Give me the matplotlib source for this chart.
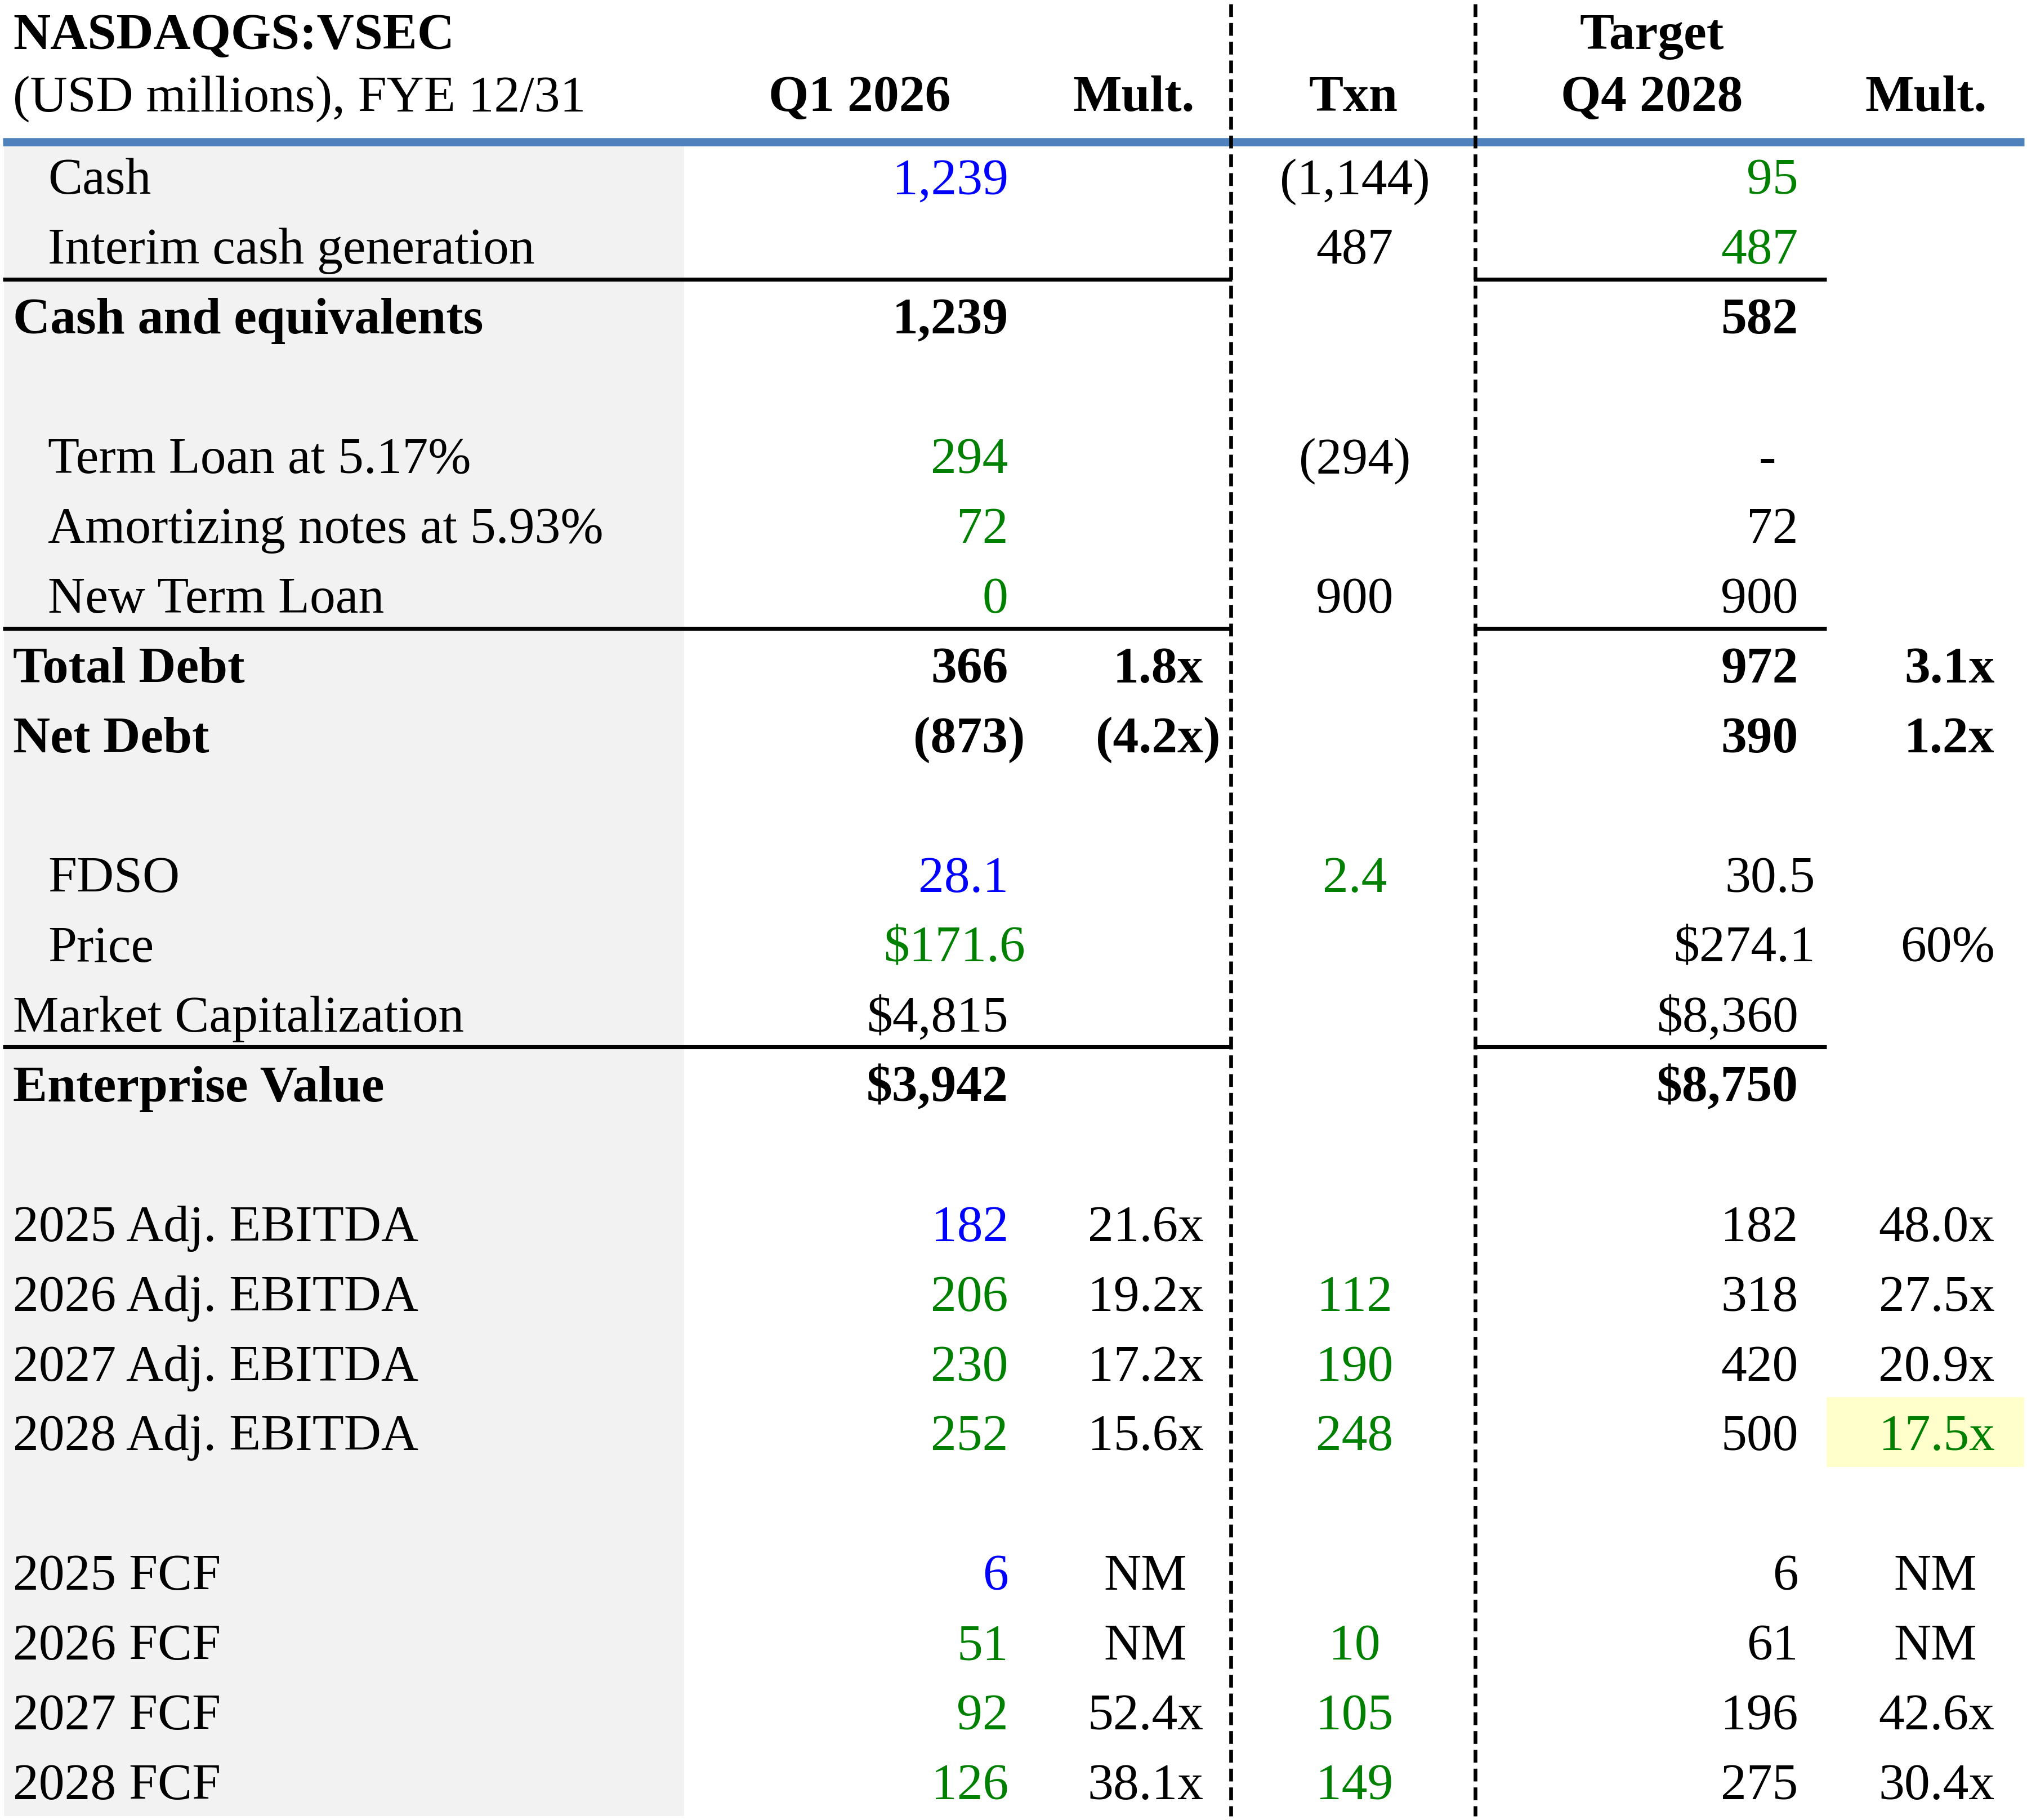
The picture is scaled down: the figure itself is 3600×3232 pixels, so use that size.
import matplotlib
matplotlib.use("Agg")
import matplotlib.pyplot as plt
from matplotlib.patches import Rectangle

# ---- data ----
row_labels = [
    "Cash", "Interim cash generation", "Cash and equivalents", "",
    "Term Loan at 5.17%", "Amortizing notes at 5.93%", "New Term Loan",
    "Total Debt", "Net Debt", "",
    "FDSO", "Price", "Market Capitalization", "Enterprise Value", "",
    "2025 Adj. EBITDA", "2026 Adj. EBITDA", "2027 Adj. EBITDA", "2028 Adj. EBITDA", "",
    "2025 FCF", "2026 FCF", "2027 FCF", "2028 FCF",
]
q1_vals = [
    "1,239", "", "1,239", "",
    "294", "72", "0",
    "366", "(873)", "",
    "28.1", "$171.6", "$4,815", "$3,942", "",
    "182", "206", "230", "252", "",
    "6", "51", "92", "126",
]
q1_mult = [
    "", "", "", "",
    "", "", "",
    "1.8x", "(4.2x)", "",
    "", "", "", "", "",
    "21.6x", "19.2x", "17.2x", "15.6x", "",
    "NM", "NM", "52.4x", "38.1x",
]
txn_vals = [
    "(1,144)", "487", "", "",
    "(294)", "", "900",
    "", "", "",
    "2.4", "", "", "", "",
    "", "112", "190", "248", "",
    "", "10", "105", "149",
]
target_vals = [
    "95", "487", "582", "",
    "-", "72", "900",
    "972", "390", "",
    "30.5", "$274.1", "$8,360", "$8,750", "",
    "182", "318", "420", "500", "",
    "6", "61", "196", "275",
]
target_mult = [
    "", "", "", "",
    "", "", "",
    "3.1x", "1.2x", "",
    "", "60%", "", "", "",
    "48.0x", "27.5x", "20.9x", "17.5x", "",
    "NM", "NM", "42.6x", "30.4x",
]
header_left = ["NASDAQGS:VSEC", "(USD millions), FYE 12/31"]
col_headers = ["Q1 2026", "Mult.", "Txn", "Target\nQ4 2028", "Mult."]

# ---- styles ----
BLUE, GREEN, BLACK = "#0000FF", "#008000", "#000000"
bold_rows = {2, 7, 8, 13}
indent_rows = {0, 1, 4, 5, 6, 10, 11}
q1_colors = {0: BLUE, 4: GREEN, 5: GREEN, 6: GREEN, 10: BLUE, 11: GREEN,
             15: BLUE, 16: GREEN, 17: GREEN, 18: GREEN,
             20: BLUE, 21: GREEN, 22: GREEN, 23: GREEN}
txn_colors = {10: GREEN, 16: GREEN, 17: GREEN, 18: GREEN,
              21: GREEN, 22: GREEN, 23: GREEN}
target_colors = {0: GREEN, 1: GREEN}
tmult_colors = {18: GREEN}
pad_cells = {(11, "q1"), (10, "tg"), (11, "tg")}  # extra trailing space in excel format

FONT = "Liberation Serif"
FS = 22

W, H = 1568, 1408
fig = plt.figure(figsize=(12, 3232 / 300), dpi=300)
ax = fig.add_axes([0, 0, 1, 1])
ax.set_xlim(0, W)
ax.set_ylim(H, 0)
ax.axis("off")

row0, pitch, base_off = 136, 54, 14
n = len(row_labels)
bottom = row0 + (n - 1) * pitch + pitch / 2

# backgrounds
ax.add_patch(Rectangle((3, 112), 526, bottom - 112, color="#F2F2F2", lw=0, zorder=0))
ax.add_patch(Rectangle((1413, row0 + 18 * pitch - 27), 153, 54, color="#FFFFCC", lw=0, zorder=0))

# lines
ax.plot([2, 1566], [109.7, 109.7], color="#4F81BD", lw=3.5, solid_capstyle="butt", zorder=2)
for r in (2, 7, 13):
    y = row0 + r * pitch - 28
    ax.plot([2, 953], [y, y], color="black", lw=1.7, solid_capstyle="butt", zorder=2)
    ax.plot([1140, 1413], [y, y], color="black", lw=1.7, solid_capstyle="butt", zorder=2)
for x in (952, 1141):
    ln, = ax.plot([x, x], [3, bottom], color="black", lw=1.6, zorder=3)
    ln.set_dashes((3.4, 1.6))


def txt(x, y, s, ha="left", color=BLACK, bold=False):
    ax.text(x, y, s, ha=ha, va="baseline", color=color, fontsize=FS,
            family=FONT, fontweight="bold" if bold else "normal", zorder=4)


# header
txt(10, 38, header_left[0], bold=True)
txt(10, 86, header_left[1])
hx = [665, 877, 1047, 1278, 1490]
for x, h in zip(hx, col_headers):
    lines = h.split("\n")
    for k, s in enumerate(reversed(lines)):
        txt(x, 86 - 48 * k, s, ha="center", bold=True)


def right_x(s, base, key, r):
    x = base
    if s.endswith(")"):
        x += 13
    if (r, key) in pad_cells:
        x += 13
    return x


for r in range(n):
    yb = row0 + r * pitch + base_off
    b = r in bold_rows
    if row_labels[r]:
        txt(37 if r in indent_rows else 10, yb, row_labels[r], bold=b)
    s = q1_vals[r]
    if s:
        txt(right_x(s, 780, "q1", r), yb, s, ha="right", color=q1_colors.get(r, BLACK), bold=b)
    s = q1_mult[r]
    if s == "NM":
        txt(886, yb, s, ha="center")
    elif s:
        txt(right_x(s, 931, "qm", r), yb, s, ha="right", bold=b)
    s = txn_vals[r]
    if s:
        txt(1048, yb, s, ha="center", color=txn_colors.get(r, BLACK), bold=b)
    s = target_vals[r]
    if s == "-":
        txt(1367, yb, s, ha="center")
    elif s:
        txt(right_x(s, 1391, "tg", r), yb, s, ha="right", color=target_colors.get(r, BLACK), bold=b)
    s = target_mult[r]
    if s == "NM":
        txt(1497, yb, s, ha="center")
    elif s:
        txt(right_x(s, 1543, "tm", r), yb, s, ha="right", color=tmult_colors.get(r, BLACK), bold=b)

fig.savefig("out.png", dpi=300, facecolor="white")
